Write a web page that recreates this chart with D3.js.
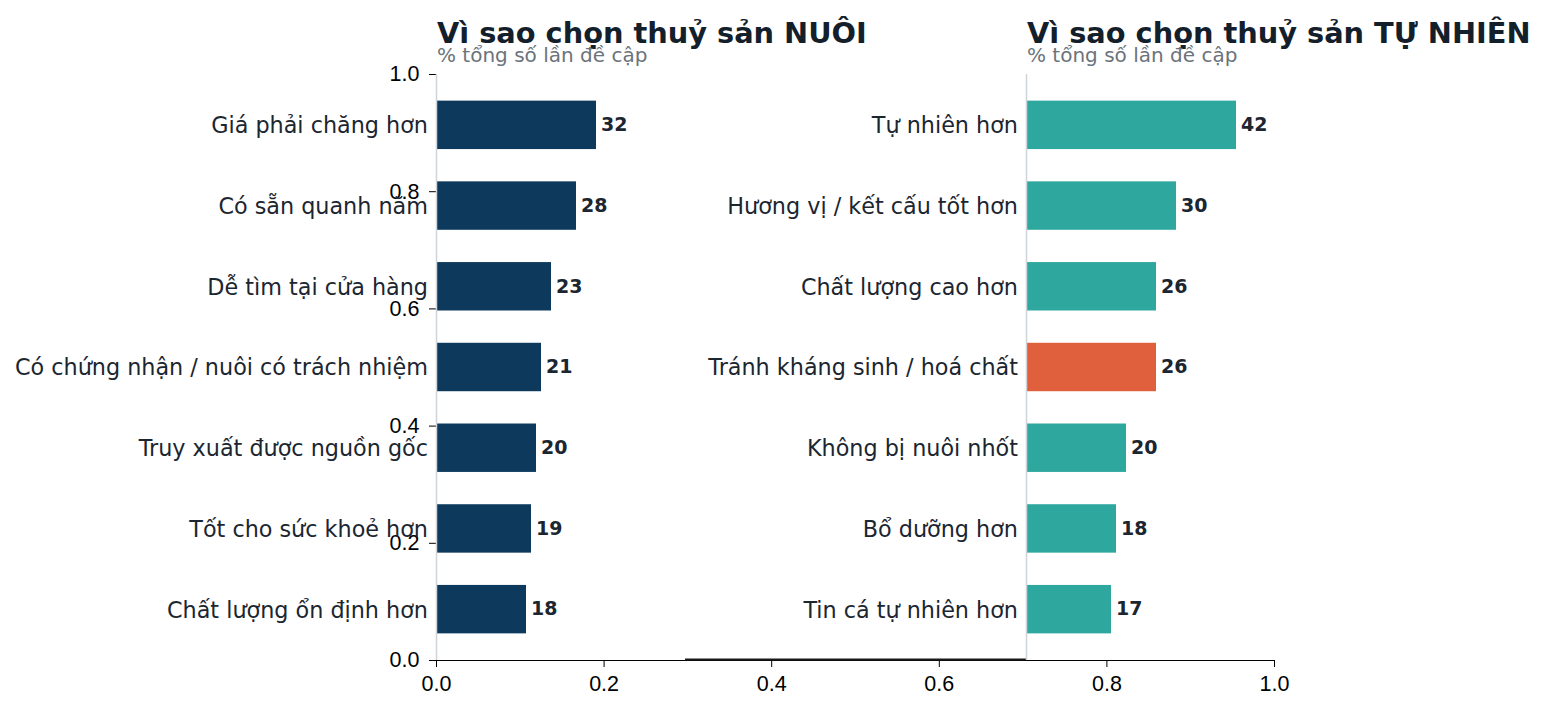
<!DOCTYPE html>
<html lang="vi">
<head>
<meta charset="UTF-8">
<title>Vì sao chọn thuỷ sản</title>
<script src="https://cdn.jsdelivr.net/npm/d3@7/dist/d3.min.js"></script>
<style>
    body { margin: 0; background: #fff; }
    svg { font-family: "DejaVu Sans", sans-serif; }
    .outer .tick text { font-size: 21.5px; fill: #000; }
    .outer .domain { stroke: #000; }
    .cat { font-size: 22.3px; fill: #1b2631; }
    .val { font-size: 19px; font-weight: bold; fill: #1b2631; }
    .title { font-size: 28.8px; font-weight: bold; fill: #13202c; }
    .sub { font-size: 20px; fill: #6b737b; }
</style>
</head>
<body>
<script>
    // ---- data ----
    const farmedLabels = [
        "Giá phải chăng hơn",
        "Có sẵn quanh năm",
        "Dễ tìm tại cửa hàng",
        "Có chứng nhận / nuôi có trách nhiệm",
        "Truy xuất được nguồn gốc",
        "Tốt cho sức khoẻ hơn",
        "Chất lượng ổn định hơn"
    ];
    const farmedValues = [32, 28, 23, 21, 20, 19, 18];

    const wildLabels = [
        "Tự nhiên hơn",
        "Hương vị / kết cấu tốt hơn",
        "Chất lượng cao hơn",
        "Tránh kháng sinh / hoá chất",
        "Không bị nuôi nhốt",
        "Bổ dưỡng hơn",
        "Tin cá tự nhiên hơn"
    ];
    const wildValues = [42, 30, 26, 26, 20, 18, 17];
    const wildHighlight = "Tránh kháng sinh / hoá chất";

    const titles = ["Vì sao chọn thuỷ sản NUÔI", "Vì sao chọn thuỷ sản TỰ NHIÊN"];
    const subtitle = "% tổng số lần đề cập";
    const outerTicks = [0, 0.2, 0.4, 0.6, 0.8, 1.0];

    const navy = "#0d3a5c", teal = "#2ea89f", orange = "#e0603d";

    const W = 1546, H = 712;
    const mTop = 74, mBottom = 660, mLeft = 436, mRight = 1274;

    const svg = d3.select("body").append("svg")
        .attr("width", W)
        .attr("height", H);

    // outer (empty) axes that sit behind both panels
    const ox = d3.scaleLinear().domain([0, 1]).range([mLeft, mRight]);
    const oy = d3.scaleLinear().domain([0, 1]).range([mBottom, mTop]);

    const outer = svg.append("g").attr("class", "outer");
    outer.append("g")
        .attr("transform", `translate(0,${mBottom})`)
        .call(d3.axisBottom(ox).tickValues(outerTicks).tickFormat(d3.format(".1f")).tickSize(7).tickPadding(9))
        .call(g => g.selectAll(".tick line").attr("stroke", "#000"));
    outer.append("g")
        .attr("transform", `translate(${mLeft},0)`)
        .call(d3.axisLeft(oy).tickValues(outerTicks).tickFormat(d3.format(".1f")).tickSize(7).tickPadding(9.5))
        .call(g => g.select(".domain").remove());

    // thicker stub of spine between the panels
    svg.append("line")
        .attr("x1", 685).attr("x2", 1026)
        .attr("y1", mBottom - 0.5).attr("y2", mBottom - 0.5)
        .attr("stroke", "#1a1a1a").attr("stroke-width", 2);

    const panelW = 250;
    const xMax = 50;
    const y = d3.scaleLinear().domain([-0.63, 6.63]).range([mTop, mBottom]);

    function panel(x0, labels, values, colorFn, title) {
        const x = d3.scaleLinear().domain([0, xMax]).range([x0, x0 + panelW]);
        const g = svg.append("g");

        g.selectAll("rect")
            .data(values)
            .enter().append("rect")
            .attr("x", x(0))
            .attr("y", (d, i) => y(i - 0.3))
            .attr("width", d => x(d) - x(0))
            .attr("height", y(0.3) - y(-0.3))
            .attr("fill", (d, i) => colorFn(labels[i]));

        g.selectAll("text.val")
            .data(values)
            .enter().append("text")
            .attr("class", "val")
            .attr("x", d => x(d) + 5)
            .attr("y", (d, i) => y(i))
            .attr("dy", "0.33em")
            .text(d => d);

        g.selectAll("text.cat")
            .data(labels)
            .enter().append("text")
            .attr("class", "cat")
            .attr("x", x(0) - 8)
            .attr("y", (d, i) => y(i))
            .attr("dy", "0.38em")
            .attr("text-anchor", "end")
            .text(d => d);

        // left spine
        g.append("line")
            .attr("x1", x(0) + 0.5).attr("x2", x(0) + 0.5)
            .attr("y1", mTop).attr("y2", mBottom)
            .attr("stroke", "#cfd4d8").attr("stroke-width", 1.5);

        g.append("text").attr("class", "title")
            .attr("x", x0 + 1).attr("y", 43)
            .text(title);
        g.append("text").attr("class", "sub")
            .attr("x", x0 + 1).attr("y", 62)
            .text(subtitle);
    }

    panel(436, farmedLabels, farmedValues, () => navy, titles[0]);
    panel(1026, wildLabels, wildValues, l => l === wildHighlight ? orange : teal, titles[1]);
</script>
</body>
</html>
